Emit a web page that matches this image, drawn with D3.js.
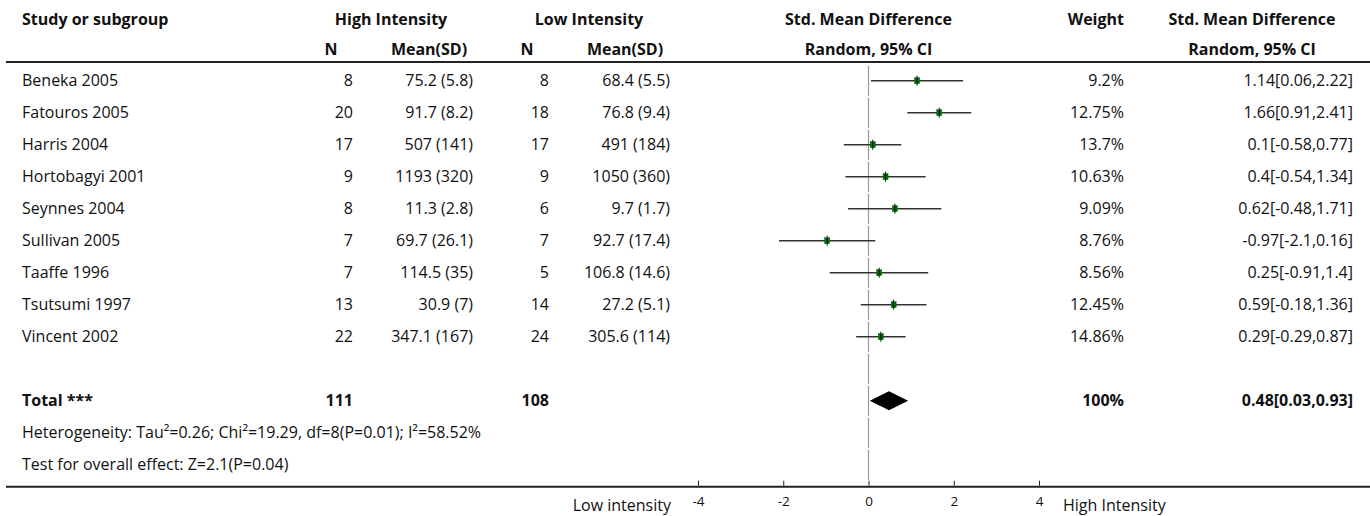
<!DOCTYPE html>
<html>
<head>
<meta charset="utf-8">
<script src="https://cdn.jsdelivr.net/npm/d3@7"></script>
<style>
  body { margin: 0; background: #fff; }
  svg text { font-family: "Source Sans Pro", "Open Sans", Lato, sans-serif; font-size: 16px; fill: #111; }
  .bold { font-weight: bold; }
  .tick text { font-size: 13.5px; }
</style>
</head>
<body>
<svg id="chart" width="1370" height="516"></svg>
<script>
// data
var studies = ["Beneka 2005","Fatouros 2005","Harris 2004","Hortobagyi 2001","Seynnes 2004","Sullivan 2005","Taaffe 1996","Tsutsumi 1997","Vincent 2002"]
var highN = [8,20,17,9,8,7,7,13,22]
var highMean = [75.2,91.7,507,1193,11.3,69.7,114.5,30.9,347.1]
var highSD = [5.8,8.2,141,320,2.8,26.1,35,7,167]
var lowN = [8,18,17,9,6,7,5,14,24]
var lowMean = [68.4,76.8,491,1050,9.7,92.7,106.8,27.2,305.6]
var lowSD = [5.5,9.4,184,360,1.7,17.4,14.6,5.1,114]
var weights = [9.2,12.75,13.7,10.63,9.09,8.76,8.56,12.45,14.86]
var smd = [1.14,1.66,0.1,0.4,0.62,-0.97,0.25,0.59,0.29]
var ciLow = [0.06,0.91,-0.58,-0.54,-0.48,-2.1,-0.91,-0.18,-0.29]
var ciHigh = [2.22,2.41,0.77,1.34,1.71,0.16,1.4,1.36,0.87]

var totalHighN = 111
var totalLowN = 108
var totalWeight = 100
var totalSmd = [0.48,0.03,0.93]   // estimate, low, high
var heterogeneity = "Heterogeneity: Tau\u00B2=0.26; Chi\u00B2=19.29, df=8(P=0.01); I\u00B2=58.52%"
var overallTest = "Test for overall effect: Z=2.1(P=0.04)"
var axisTicks = [-4,-2,0,2,4]
var leftLabel = "Low intensity"
var rightLabel = "High Intensity"

var svg = d3.select("#chart")

var x = d3.scaleLinear().domain([-4,4]).range([698,1039])
var row = d3.scaleLinear().domain([0,12]).range([80.7,464.7])  // row index -> centre y
var rowH = row(1) - row(0)

// column positions
var colName = 22
var colHN = 353, colHM = 473, colLN = 549, colLM = 670
var colW = 1124, colCI = 1353

function txt(g, xx, yy, s, anchor, cls){
  return g.append("text")
    .attr("x", xx).attr("y", yy).attr("dy","0.35em")
    .attr("text-anchor", anchor || "start")
    .attr("class", cls || null)
    .text(s)
}
function ciText(e,l,h){ return e + "[" + l + "," + h + "]" }

// header
var head = svg.append("g")
var h1 = 19, h2 = 49
txt(head, colName, h1, "Study or subgroup", "start", "bold")
txt(head, 391, h1, "High Intensity", "middle", "bold")
txt(head, 589, h1, "Low Intensity", "middle", "bold")
txt(head, x(0), h1, "Std. Mean Difference", "middle", "bold")
txt(head, colW, h1, "Weight", "end", "bold")
txt(head, 1252, h1, "Std. Mean Difference", "middle", "bold")
txt(head, 331, h2, "N", "middle", "bold")
txt(head, 429, h2, "Mean(SD)", "middle", "bold")
txt(head, 527, h2, "N", "middle", "bold")
txt(head, 625, h2, "Mean(SD)", "middle", "bold")
txt(head, x(0), h2, "Random, 95% CI", "middle", "bold")
txt(head, 1252, h2, "Random, 95% CI", "middle", "bold")

svg.append("line").attr("x1",6).attr("x2",1370).attr("y1",62).attr("y2",62)
  .attr("stroke","#222").attr("stroke-width",2)

// zero line, broken at every row boundary
var segs = d3.range(0,13)
svg.append("g").selectAll("line").data(segs).enter().append("line")
  .attr("x1", x(0)).attr("x2", x(0))
  .attr("y1", function(d){ return Math.max(63, row(d) - rowH/2 + 1) })
  .attr("y2", function(d){ return row(d) + rowH/2 - 1 })
  .attr("stroke","#999").attr("stroke-width",1.2)

// study rows
var rows = svg.append("g").selectAll("g").data(studies).enter().append("g")
  .attr("transform", function(d,i){ return "translate(0," + row(i) + ")" })

rows.each(function(d,i){
  var g = d3.select(this)
  txt(g, colName, 0, d)
  txt(g, colHN, 0, highN[i], "end")
  txt(g, colHM, 0, highMean[i] + " (" + highSD[i] + ")", "end")
  txt(g, colLN, 0, lowN[i], "end")
  txt(g, colLM, 0, lowMean[i] + " (" + lowSD[i] + ")", "end")
  txt(g, colW, 0, weights[i] + "%", "end")
  txt(g, colCI, 0, ciText(smd[i], ciLow[i], ciHigh[i]), "end")

  g.append("line").attr("x1", x(ciLow[i])).attr("x2", x(ciHigh[i]))
    .attr("stroke","#333").attr("stroke-width",1.5)
  g.append("rect").attr("x", x(smd[i]) - 2.5).attr("y", -3)
    .attr("width",5).attr("height",6)
    .attr("fill","#007000").attr("stroke","#063").attr("stroke-width",0.5)
  g.append("line").attr("x1", x(smd[i])).attr("x2", x(smd[i]))
    .attr("y1",-5).attr("y2",5).attr("stroke","#111").attr("stroke-width",1)
})

// total
var yT = row(10)
var tot = svg.append("g")
txt(tot, colName, yT, "Total ***", "start", "bold")
txt(tot, colHN, yT, totalHighN, "end", "bold")
txt(tot, colLN, yT, totalLowN, "end", "bold")
txt(tot, colW, yT, totalWeight + "%", "end", "bold")
txt(tot, colCI, yT, ciText(totalSmd[0], totalSmd[1], totalSmd[2]), "end", "bold")
tot.append("path")
  .attr("d", "M" + x(totalSmd[1]) + "," + yT + "L" + x(totalSmd[0]) + "," + (yT-9.5) +
             "L" + x(totalSmd[2]) + "," + yT + "L" + x(totalSmd[0]) + "," + (yT+9.5) + "Z")
  .attr("fill","#000")

txt(svg, colName, row(11), heterogeneity)
txt(svg, colName, row(12), overallTest)

// bottom rule + axis
var yAxis = 486.7
svg.append("line").attr("x1",6).attr("x2",1370).attr("y1",yAxis).attr("y2",yAxis)
  .attr("stroke","#222").attr("stroke-width",2)

var axis = d3.axisBottom(x).tickValues(axisTicks).tickFormat(function(d){ return String(d) })
  .tickSizeInner(-5).tickSizeOuter(0).tickPadding(11)
var ag = svg.append("g").attr("transform","translate(0," + (yAxis - 1) + ")").call(axis)
ag.select(".domain").remove()
ag.selectAll(".tick line").attr("stroke","#222")
ag.selectAll(".tick text").attr("fill","#111")

txt(svg, x(-4) - 27, 505, leftLabel, "end")
txt(svg, x(4) + 24, 505, rightLabel, "start")
</script>
</body>
</html>
